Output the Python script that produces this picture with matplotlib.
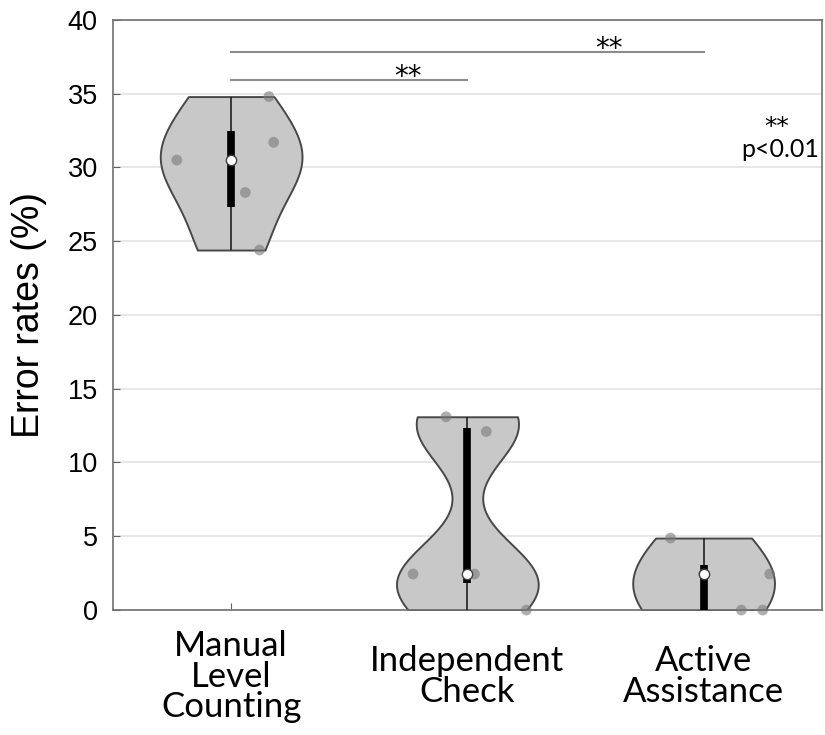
import numpy as np
import matplotlib.pyplot as plt

categories = ["Manual\nLevel\nCounting", "Independent\nCheck", "Active\nAssistance"]
manual = [30.5, 34.8, 31.7, 28.3, 24.4]
independent = [2.44, 13.1, 12.1, 2.44, 0.0]
active = [4.88, 2.44, 0.0, 0.0, 2.44]
# horizontal jitter of the raw points
jitter = [[-0.23, 0.16, 0.18, 0.06, 0.12],
          [-0.23, -0.09, 0.08, 0.03, 0.25],
          [-0.14, 0.28, 0.16, 0.25, 0.0]]
groups = [manual, independent, active]
# kde bandwidth factors (per violin, relative to std)
bw_factors = [0.64, 0.42, 1.36]
sig_pairs = [(1, 2, 35.9), (1, 3, 37.8)]
star_x = [1.75, 2.6]

fig = plt.figure(figsize=(8.25, 7.35), dpi=100)
ax = fig.add_axes([0.137, 0.170, 0.859, 0.803])

pos = np.arange(1, len(groups) + 1)
ax.set_axisbelow(True)
ax.yaxis.grid(True, color='#e3e3e3', linewidth=1.2)

for p, g, bw in zip(pos, groups, bw_factors):
    vp = ax.violinplot([g], positions=[p], widths=0.6, bw_method=bw,
                       showextrema=False)
    for body in vp['bodies']:
        body.set_facecolor('#c8c8c8')
        body.set_edgecolor('#484848')
        body.set_linewidth(1.4)
        body.set_alpha(1)
    q1, med, q3 = np.percentile(g, [25, 50, 75], method='hazen')
    ax.vlines(p, min(g), max(g), color='#202020', linewidth=1.2, zorder=3)
    ax.vlines(p, q1, q3, color='black', linewidth=5.5, zorder=4)
    ax.scatter([p], [med], s=55, color='white', edgecolor='#404040',
               linewidth=1, zorder=6)

for p, g, jit in zip(pos, groups, jitter):
    ax.scatter(p + np.array(jit), g, s=60, color='#7a7a7a', alpha=0.6,
               edgecolor='none', zorder=5, clip_on=False)

for (a, b, y), sx in zip(sig_pairs, star_x):
    ax.plot([a, b], [y, y], color='#8c8c8c', linewidth=1.5)
    ax.text(sx, y - 0.7, '**', ha='center', va='bottom', fontsize=20)

ax.text(3.31, 31.9, '**', ha='center', va='bottom', fontsize=18)
ax.text(3.49, 31.2, 'p<0.01', ha='right', va='center', fontsize=18,
        family='Lato')

ax.set_xlim(0.5, 3.5)
ax.set_ylim(0, 40)
ax.set_yticks(np.arange(0, 41, 5))
ax.set_xticks(pos)
ax.set_xticklabels(categories, fontsize=25, family='Lato', linespacing=0.95,
                   va='center')
ax.tick_params(axis='y', labelsize=19.5, direction='in', length=5,
               color='#606060', pad=11)
ax.tick_params(axis='x', direction='in', length=5, color='#606060', pad=48)
for lab in ax.get_yticklabels():
    lab.set_family('Liberation Sans')
ax.set_ylabel('Error rates (%)', fontsize=27, family='Liberation Sans',
              labelpad=15)
for s in ax.spines.values():
    s.set_color('#707070')
    s.set_linewidth(1.2)

fig.savefig('out.png', dpi=100)
